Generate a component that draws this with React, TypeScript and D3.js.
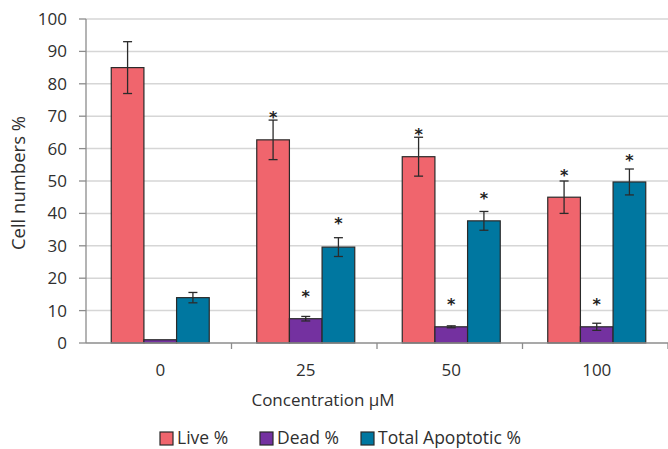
import React from "react";
import * as d3 from "d3";

const categories = ["0", "25", "50", "100"];
const seriesNames = ["Live %", "Dead %", "Total Apoptotic %"];
const liveValues = [85, 62.7, 57.5, 45];
const liveErrors = [8, 6.1, 6, 5];
const deadValues = [1, 7.5, 5, 5];
const deadErrors = [0, 0.7, 0.3, 1.1];
const apopValues = [14, 29.6, 37.7, 49.7];
const apopErrors = [1.6, 2.9, 2.9, 4];
// star (significance) marker heights, in data units; null = no star
const liveStars = [null, 70.6, 65.4, 52.9];
const deadStars = [null, 15.5, 13, 13];
const apopStars = [null, 38, 45.8, 57.4];
const yTicks = [0, 10, 20, 30, 40, 50, 60, 70, 80, 90, 100];
const xTitle = "Concentration µM";
const yTitle = "Cell numbers %";

const colors = ["#f0656d", "#7431a0", "#0077a0"];

const W = 668;
const H = 449;
const FONT = "'Open Sans', 'Noto Sans', sans-serif";
const TEXT = "#2f2f2f";

export default function App() {
  const series = [
    { name: seriesNames[0], values: liveValues, errors: liveErrors, stars: liveStars },
    { name: seriesNames[1], values: deadValues, errors: deadErrors, stars: deadStars },
    { name: seriesNames[2], values: apopValues, errors: apopErrors, stars: apopStars },
  ];
  const x0 = d3.scaleBand<string>().domain(categories).range([86, 668]);
  const groupW = 98;
  const groupOffset = (x0.bandwidth() - groupW) / 2 + 1.5;
  const x1 = d3.scaleBand<string>().domain(seriesNames).range([0, groupW]);
  const y = d3.scaleLinear().domain([0, 100]).range([343, 19]);

  return (
    <svg
      width={W}
      height={H}
      style={{ position: "fixed", left: 0, top: 0, background: "#fff" }}
      fontFamily={FONT}
    >
      <rect width={W} height={H} fill="#fff" />
      {/* gridlines */}
      {yTicks.slice(1).map((t) => (
        <line key={"g" + t} x1={86} x2={668} y1={y(t)} y2={y(t)} stroke="#d6d6d6" strokeWidth={1.5} />
      ))}
      {/* y axis */}
      <line x1={86} x2={86} y1={y(100)} y2={y(0)} stroke="#8c8c8c" strokeWidth={1.3} />
      {yTicks.map((t) => (
        <g key={"yt" + t}>
          <line x1={79} x2={86} y1={y(t)} y2={y(t)} stroke="#8c8c8c" strokeWidth={1.3} />
          <text x={67} y={y(t)} dy="0.35em" textAnchor="end" fontSize={17} fill={TEXT}>
            {t}
          </text>
        </g>
      ))}
      {/* bars */}
      {series.map((s, si) =>
        categories.map((c, ci) => {
          const bx = (x0(c) as number) + groupOffset + (x1(s.name) as number);
          const bw = x1.bandwidth();
          const v = s.values[ci];
          return (
            <rect
              key={"b" + si + ci}
              x={bx}
              y={y(v)}
              width={bw}
              height={y(0) - y(v)}
              fill={colors[si]}
              stroke="#2a2a2a"
              strokeWidth={1.2}
            />
          );
        })
      )}
      {/* x axis */}
      <line x1={86} x2={668} y1={y(0)} y2={y(0)} stroke="#8c8c8c" strokeWidth={1.3} />
      {categories.map((c) => (
        <line
          key={"xt" + c}
          x1={(x0(c) as number) + x0.bandwidth()}
          x2={(x0(c) as number) + x0.bandwidth()}
          y1={y(0)}
          y2={y(0) + 6}
          stroke="#8c8c8c"
          strokeWidth={1.3}
        />
      ))}
      {/* error bars */}
      {series.map((s, si) =>
        categories.map((c, ci) => {
          const e = s.errors[ci];
          if (!e) return null;
          const cx = (x0(c) as number) + groupOffset + (x1(s.name) as number) + x1.bandwidth() / 2;
          const v = s.values[ci];
          const capW = 4.5;
          return (
            <g key={"e" + si + ci} stroke="#2b2b2b" strokeWidth={1.3}>
              <line x1={cx} x2={cx} y1={y(v + e)} y2={y(v - e)} />
              <line x1={cx - capW} x2={cx + capW} y1={y(v + e)} y2={y(v + e)} />
              <line x1={cx - capW} x2={cx + capW} y1={y(v - e)} y2={y(v - e)} />
            </g>
          );
        })
      )}
      {/* significance stars */}
      {series.map((s, si) =>
        categories.map((c, ci) => {
          const st = s.stars[ci];
          if (st == null) return null;
          const cx = (x0(c) as number) + groupOffset + (x1(s.name) as number) + x1.bandwidth() / 2;
          return (
            <text
              key={"s" + si + ci}
              x={cx}
              y={y(st) + 9}
              textAnchor="middle"
              fontSize={16}
              fontWeight="bold"
              fontFamily="'DejaVu Sans', sans-serif"
              fill="#222"
            >
              *
            </text>
          );
        })
      )}
      {/* x labels */}
      {categories.map((c) => (
        <text
          key={"xl" + c}
          x={(x0(c) as number) + x0.bandwidth() / 2 + 1.5}
          y={370}
          dy="0.35em"
          textAnchor="middle"
          fontSize={17}
          fill={TEXT}
        >
          {c}
        </text>
      ))}
      <text x={323} y={400} dy="0.35em" textAnchor="middle" fontSize={17} fill={TEXT}>
        {xTitle}
      </text>
      <text
        transform={`translate(19,183) rotate(-90)`}
        textAnchor="middle"
        dy="0.35em"
        fontSize={18.5}
        fill={TEXT}
      >
        {yTitle}
      </text>
      {/* legend */}
      {seriesNames.map((n, i) => {
        const lx = [160, 260, 361][i];
        return (
          <g key={"lg" + i}>
            <rect x={lx} y={432} width={13} height={13} fill={colors[i]} stroke="#2a2a2a" strokeWidth={1.2} />
            <text x={lx + 17} y={444} fontSize={17.5} fill={TEXT}>
              {n}
            </text>
          </g>
        );
      })}
    </svg>
  );
}
